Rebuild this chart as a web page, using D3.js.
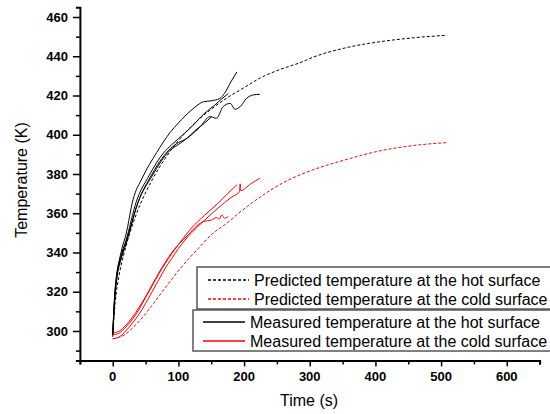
<html>
  <head>
    <script src="https://d3js.org/d3.v7.min.js"></script>
    <style>
      body { margin: 0; background: #fff; }
      .tick-label { font-family: Arial, "Liberation Sans", sans-serif; font-size: 13px; font-weight: bold; fill: black; }
      .axis-title { font-family: Arial, "Liberation Sans", sans-serif; font-size: 16px; fill: black; }
      .legend-text { font-family: Arial, "Liberation Sans", sans-serif; font-size: 16px; fill: black; }
    </style>
  </head>
  <body>
    <svg id="chart" width="550" height="414"></svg>
    <script>
      // time (s), temperature (K)
      const predHot = [[0,298],[3,312],[6,321],[10,329],[20,343],[30,354],[40,363],[60,377],[80,388],[100,397],[125,406],[150,413],[175,419],[200,424],[225,429],[255,433.3],[285,436.7],[305,439.5],[356,444.4],[407,447.4],[458,449.4],[509,450.7]];
      const predCold = [[0,296],[10,296.8],[20,298.5],[30,301.5],[42,305.6],[62,314],[80,322],[97,329.4],[115,336.5],[133,343],[150,349],[174,355],[190,359.5],[209,364.5],[230,369.5],[265,376.5],[300,381.5],[354,387.2],[407,391.8],[458,394.5],[509,396]];

      const hotA = [[0,298],[2,313],[4,323],[6,329],[10,336],[14,342],[20,349],[31,367],[45,378],[67,391],[87,401],[100,406],[110,409.5],[125,414],[138,416.8],[150,417.3],[163,418.5],[170,421],[180,427],[189,432]];
      const hotB = [[0,298],[2,312],[4,322],[6,328],[14,340],[20,346],[36,366],[55,379],[78,391],[90,395],[100,398],[120,404],[140,411],[155,415],[165,418],[176,421]];
      const hotC = [[0,298],[2,311],[4,321],[6,327],[14,339],[20,345],[39,366],[60,379],[87,392],[100,395],[120,400],[133,404],[148,409.2],[158,408.4],[168,414.3],[179,416],[186,413],[194,414.3],[204,418.6],[214,420.3],[224,420.6]];
      const hotD = [[0,297],[2,310],[4,320],[6,326],[14,338],[20,344],[38,365],[60,380],[75,388],[88,393],[100,396],[112,398],[125,402],[140,406],[150,409]];

      const coldA = [[0,298],[10,299],[20,302],[30,306],[40,311],[50,317],[60,323],[70,329],[80,334.5],[90,339.5],[100,344],[120,352.5],[140,359],[160,365],[175,370],[189,374.5]];
      const coldB = [[0,296],[10,297],[20,300],[30,304],[40,308.5],[50,314],[60,320],[70,326],[80,332],[90,337],[100,342],[120,350],[140,356.5],[160,362.5],[180,368],[193,371],[194,375],[195,371.5],[210,375],[224,377.8]];
      const coldC = [[0,299],[10,300],[20,303],[30,307],[40,312],[50,317.5],[60,323.5],[70,329.5],[80,335],[90,340],[100,344],[115,349],[128,353.5],[138,355.8],[150,356.5],[158,357.8],[162,357],[166,359.2],[170,357.5],[176,358.3]];

      const xTicks = [0, 100, 200, 300, 400, 500, 600];
      const yTicks = [300, 320, 340, 360, 380, 400, 420, 440, 460];
      const legendLabels = [
        "Predicted temperature at the hot surface",
        "Predicted temperature at the cold surface",
        "Measured temperature at the hot surface",
        "Measured temperature at the cold surface"
      ];
      const legendColors = ["black", "red", "black", "red"];
      const legendDashes = ["3,2", "3,2", "none", "none"];

      const svg = d3.select("#chart");
      const x = d3.scaleLinear().domain([-50, 650]).range([79.9, 539.6]);
      const y = d3.scaleLinear().domain([285, 465]).range([360.4, 7.2]);

      const line = d3.line()
        .x(d => x(d[0]))
        .y(d => y(d[1]))
        .curve(d3.curveMonotoneX);

      // measured curves
      [hotA, hotB, hotC, hotD].forEach(s => {
        svg.append("path").attr("d", line(s))
          .attr("fill", "none").attr("stroke", "black").attr("stroke-width", 1);
      });
      [coldA, coldB, coldC].forEach(s => {
        svg.append("path").attr("d", line(s))
          .attr("fill", "none").attr("stroke", "red").attr("stroke-width", 1);
      });

      // predicted curves
      svg.append("path").attr("d", line(predHot))
        .attr("fill", "none").attr("stroke", "black").attr("stroke-width", 1)
        .attr("stroke-dasharray", "3,2");
      svg.append("path").attr("d", line(predCold))
        .attr("fill", "none").attr("stroke", "red").attr("stroke-width", 1)
        .attr("stroke-dasharray", "3,2");

      // x axis
      const xAxis = svg.append("g").attr("transform", `translate(0,${y(285)})`);
      xAxis.call(d3.axisBottom(x).tickValues(d3.range(-50, 651, 50)).tickSize(4).tickFormat(""));
      xAxis.call(g => g.selectAll(".tick").filter(d => xTicks.includes(d)).select("line").attr("y2", 6));
      xAxis.selectAll("line").attr("stroke", "black").attr("stroke-width", 1.5);
      xAxis.select(".domain").attr("stroke", "black").attr("stroke-width", 2);
      xAxis.selectAll(".lbl").data(xTicks).join("text")
        .attr("class", "tick-label")
        .attr("x", d => x(d)).attr("y", 20.5)
        .attr("text-anchor", "middle")
        .text(d => d);

      // y axis
      const yAxis = svg.append("g").attr("transform", `translate(${x(-50)},0)`);
      yAxis.call(d3.axisLeft(y).tickValues(d3.range(290, 466, 10)).tickSize(4).tickFormat(""));
      yAxis.call(g => g.selectAll(".tick").filter(d => yTicks.includes(d)).select("line").attr("x2", -7));
      yAxis.selectAll("line").attr("stroke", "black").attr("stroke-width", 1.5);
      yAxis.select(".domain").attr("stroke", "black").attr("stroke-width", 2);
      yAxis.selectAll(".lbl").data(yTicks).join("text")
        .attr("class", "tick-label")
        .attr("x", -12).attr("y", d => y(d))
        .attr("dy", "0.35em")
        .attr("text-anchor", "end")
        .text(d => d);

      // axis titles
      svg.append("text").attr("class", "axis-title")
        .attr("x", 309).attr("y", 405.5).attr("text-anchor", "middle")
        .text("Time (s)");
      svg.append("text").attr("class", "axis-title")
        .attr("transform", "translate(27,180) rotate(-90)")
        .attr("text-anchor", "middle")
        .text("Temperature (K)");

      // legends: two stacked boxes, running off the right edge
      svg.append("rect").attr("x", 197).attr("y", 267).attr("width", 370).attr("height", 42)
        .attr("fill", "white").attr("stroke", "#555").attr("stroke-width", 1.5);
      svg.append("rect").attr("x", 193).attr("y", 310).attr("width", 370).attr("height", 41)
        .attr("fill", "white").attr("stroke", "#555").attr("stroke-width", 1.5);

      const rowX1 = [208, 208, 203, 203];
      const rowX2 = [249, 249, 245, 245];
      const rowY = [280, 299, 322, 341];
      const textX = [254, 254, 250, 250];

      svg.selectAll(".leg-line").data(legendLabels).join("path")
        .attr("class", "leg-line")
        .attr("d", (d, i) => `M${rowX1[i]},${rowY[i]}H${rowX2[i]}`)
        .attr("fill", "none")
        .attr("stroke", (d, i) => legendColors[i])
        .attr("stroke-width", 1.4)
        .attr("stroke-dasharray", (d, i) => legendDashes[i]);

      svg.selectAll(".legend-text").data(legendLabels).join("text")
        .attr("class", "legend-text")
        .attr("x", (d, i) => textX[i]).attr("y", (d, i) => rowY[i] + 6)
        .text(d => d);
    </script>
  </body>
</html>
